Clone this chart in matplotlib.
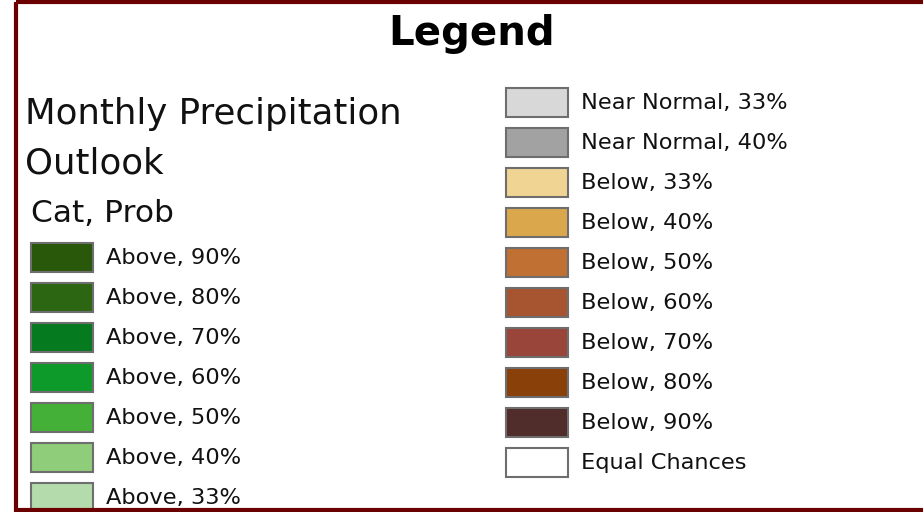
import matplotlib.pyplot as plt
from matplotlib.patches import Rectangle

# legend entries, left column (above normal)
left_labels = ["Above, 90%", "Above, 80%", "Above, 70%", "Above, 60%",
               "Above, 50%", "Above, 40%", "Above, 33%"]
left_colors = ["#29580a", "#2d6613", "#067a1e", "#0e9a2b",
               "#45b037", "#8fcd7a", "#b4dbab"]

# right column (near normal / below / EC)
right_labels = ["Near Normal, 33%", "Near Normal, 40%", "Below, 33%", "Below, 40%",
                "Below, 50%", "Below, 60%", "Below, 70%", "Below, 80%",
                "Below, 90%", "Equal Chances"]
right_colors = ["#d8d8d8", "#a2a2a2", "#f0d493", "#dba74d",
                "#c07033", "#a75530", "#99453a", "#8a4109",
                "#502c2a", "#ffffff"]

W, H = 923, 512
fig = plt.figure(figsize=(W / 100, H / 100), dpi=100)
ax = fig.add_axes([0, 0, 1, 1])
ax.set_xlim(0, W)
ax.set_ylim(H, 0)
ax.axis("off")

# outer frame
ax.add_patch(Rectangle((16, 2), 960, 508, fill=False, edgecolor="#6b0000",
                       linewidth=3.0, zorder=5))

ax.text(472, 45, "Legend", fontsize=29, fontweight="bold", ha="center",
        va="baseline", color="#000000")
ax.text(25, 124, "Monthly Precipitation", fontsize=25.6, va="baseline", color="#111111")
ax.text(25, 173, "Outlook", fontsize=25.6, va="baseline", color="#111111")
ax.text(31, 222, "Cat, Prob", fontsize=22.5, va="baseline", color="#111111")


def draw_column(x0, y0, labels, colors):
    for i, (lab, col) in enumerate(zip(labels, colors)):
        yc = y0 + i * 40
        ax.add_patch(Rectangle((x0, yc - 14.5), 62, 29, facecolor=col,
                               edgecolor="#6e6e6e", linewidth=1.5, zorder=2))
        ax.text(x0 + 75, yc + 1, lab, fontsize=16.2, va="center", color="#111111")


draw_column(31, 257, left_labels, left_colors)
draw_column(506, 102, right_labels, right_colors)

plt.savefig("out.png", dpi=100)
